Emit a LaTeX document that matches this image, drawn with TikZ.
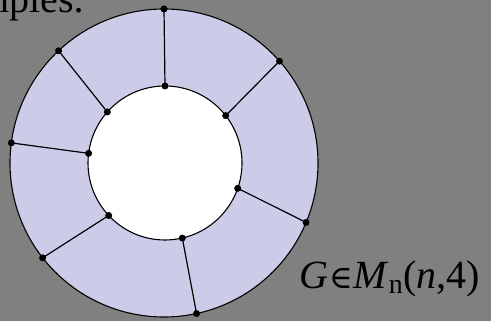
\documentclass[tikz,border=0pt]{standalone}
\usepackage{fontspec}
\setmainfont{Liberation Serif}
\newfontfamily\symbolfont{DejaVu Serif}
\usepackage{tikz}
\usetikzlibrary{positioning}
\definecolor{slideGray}{HTML}{808080}
\definecolor{ringLilac}{HTML}{CCCCE8}

\begin{document}
\begin{tikzpicture}[
    x=1pt, y=1pt,
    dot/.style={
        circle,
        fill=black,
        inner sep=0pt,
        minimum size=7pt
    },
    ring/.style={
        draw=black,
        line width=1.1pt
    },
    edge/.style={
        draw=black,
        line width=1.2pt
    },
    bigtext/.style={
        inner sep=0pt,
        anchor=base west,
        font=\fontsize{40}{44}\selectfont
    }
]
% page and background
\useasboundingbox (0,0) rectangle (491,321);
\fill[slideGray] (0,0) rectangle (491,321);

\coordinate (oc) at (164,158);
\coordinate (ic) at (165,158);

% the ring
\fill[ringLilac] (oc) circle (154pt);
\fill[white] (ic) circle (77pt);
\draw[ring] (oc) circle (154pt);
\draw[ring] (ic) circle (77pt);

% points on the outer circle
\node[dot] (o1) at ([shift={(90:154)}]oc) {};
\node[dot] (o2) at ([shift={(41.4:154)}]oc) {};
\node[dot] (o3) at ([shift={(-22.7:154)}]oc) {};
\node[dot] (o4) at ([shift={(-77.8:154)}]oc) {};
\node[dot] (o5) at ([shift={(218:154)}]oc) {};
\node[dot] (o6) at ([shift={(172.5:154)}]oc) {};
\node[dot] (o7) at ([shift={(133.2:154)}]oc) {};

% points on the inner circle
\node[dot] (i1) at ([shift={(90:77)}]ic) {};
\node[dot] (i2) at ([shift={(38:77)}]ic) {};
\node[dot] (i3) at ([shift={(-19.2:77)}]ic) {};
\node[dot] (i4) at ([shift={(-77:77)}]ic) {};
\node[dot] (i5) at ([shift={(223:77)}]ic) {};
\node[dot] (i6) at ([shift={(172.8:77)}]ic) {};
\node[dot] (i7) at ([shift={(138.5:77)}]ic) {};

\draw[edge] (o1.center) -- (i1.center);
\draw[edge] (o2.center) -- (i2.center);
\draw[edge] (o3.center) -- (i3.center);
\draw[edge] (o4.center) -- (i4.center);
\draw[edge] (o5.center) -- (i5.center);
\draw[edge] (o6.center) -- (i6.center);
\draw[edge] (o7.center) -- (i7.center);

% texts
\node[bigtext] (head) at (-22,308.5) {mples:};
\node[bigtext] (label) at (299,32) {\textit{G}\kern1pt{\symbolfont\fontsize{32}{36}\selectfont ∈}\kern1pt\textit{M}\textsubscript{n}(\textit{n},4)};
\end{tikzpicture}
\end{document}
